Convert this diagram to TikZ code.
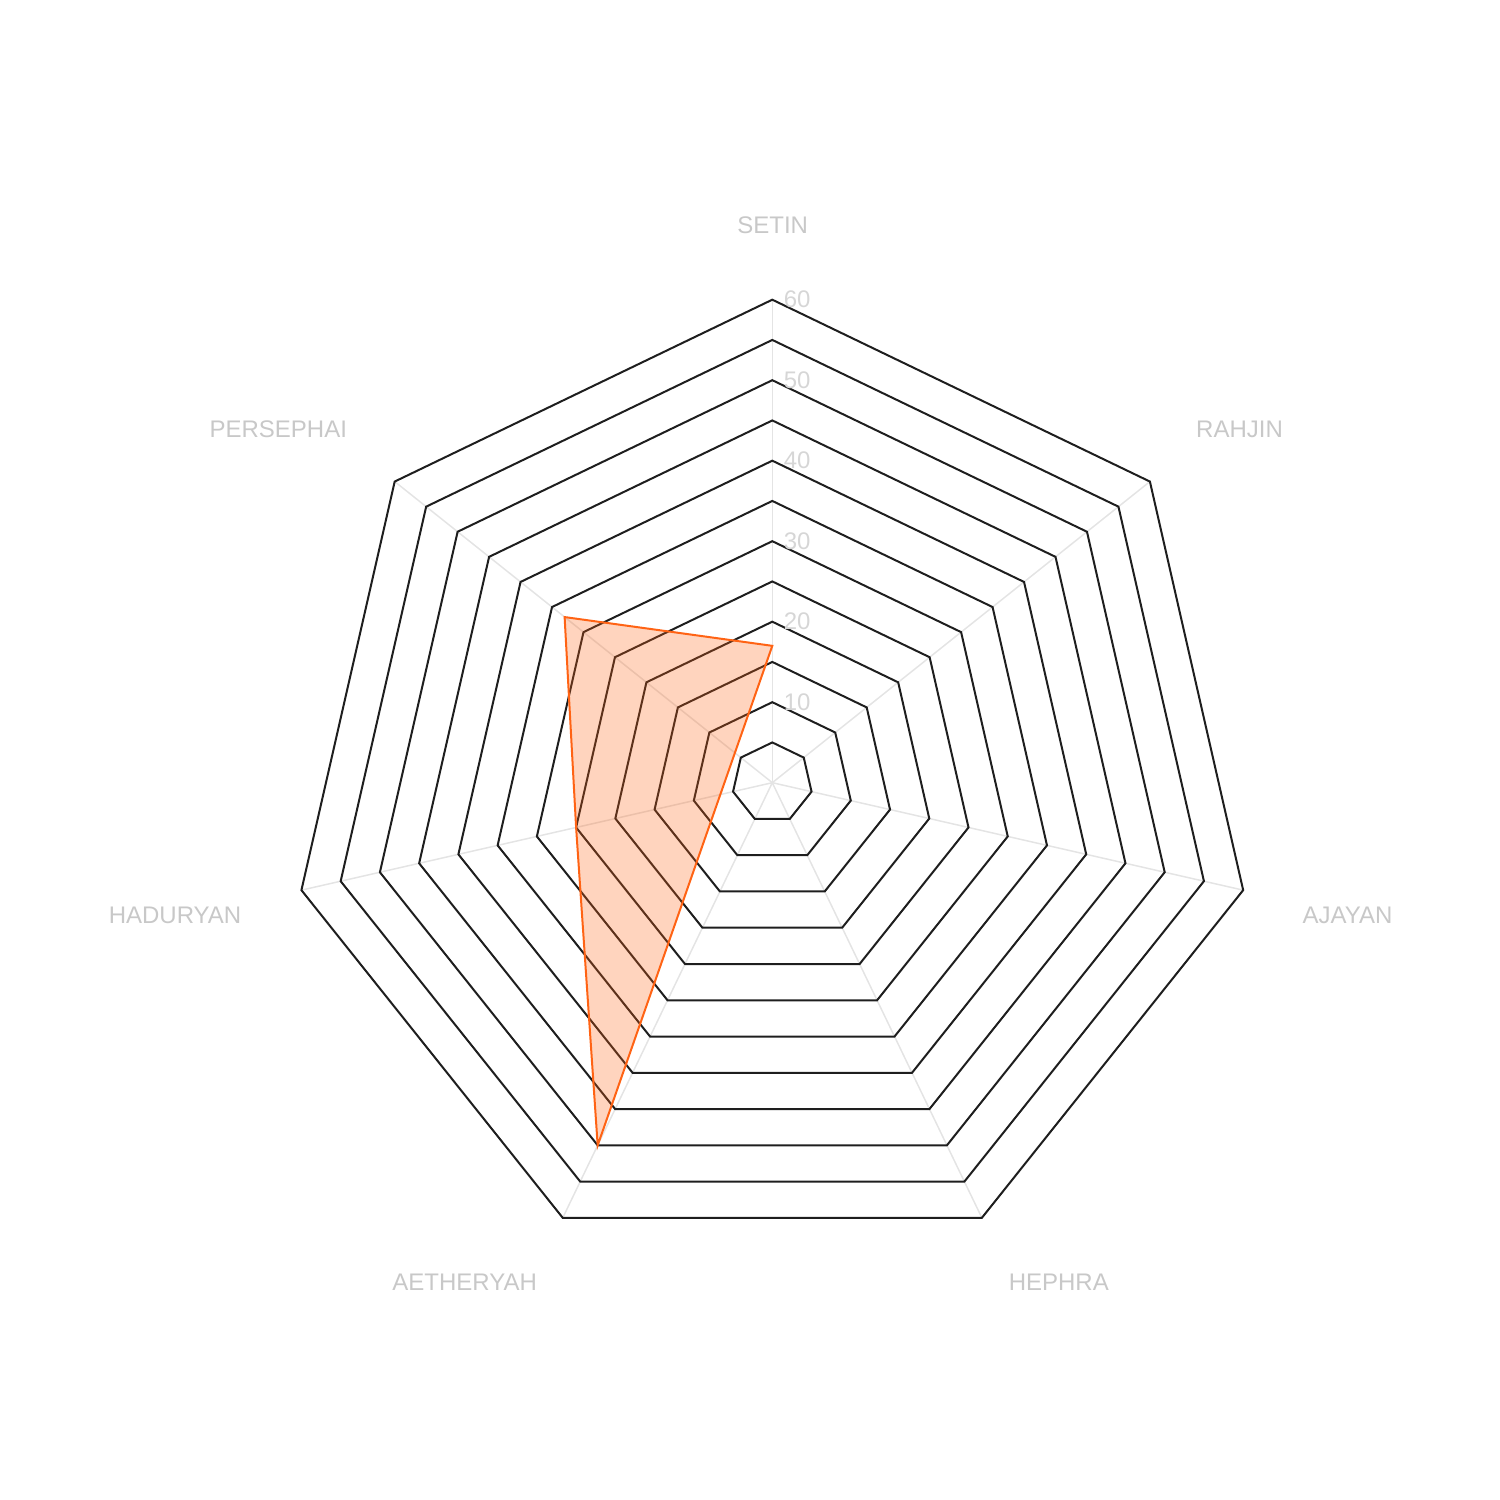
\documentclass[tikz,border=0pt]{standalone}
\usepackage{fontspec}
\newfontfamily\labfont{Liberation Sans}
\definecolor{gridc}{RGB}{30,30,30}
\definecolor{spokec}{RGB}{228,228,228}
\definecolor{labc}{RGB}{200,200,200}
\definecolor{tickc}{RGB}{214,214,214}
\definecolor{dataor}{RGB}{255,99,20}
\tikzset{
  ring/.style={draw=gridc, line width=2pt, line join=miter},
  spoke/.style={draw=spokec, line width=1.5pt},
  axislab/.style={inner sep=0pt, text=labc, font=\labfont\fontsize{24}{29}\selectfont},
  ticklab/.style={inner sep=0pt, text=tickc, font=\labfont\fontsize{24}{29}\selectfont},
  datafill/.style={fill=dataor, fill opacity=0.28},
  dataline/.style={draw=dataor, line width=2pt, line join=miter}
}
\begin{document}
\begin{tikzpicture}[x=1pt,y=1pt]
\useasboundingbox (0,0) rectangle (1500,1500);
\coordinate (O) at (772.3,717.3);
\begin{scope}[shift={(772.3,717.3)}]
  % spokes
  \foreach \k in {0,...,6}{
    \draw[spoke] (0,0) -- ({90-\k*360/7}:{60*8.05});
  }
  % rings
  \foreach \v in {5,10,...,60}{
    \draw[ring] (90:{\v*8.05}) \foreach \k in {1,...,6}{ -- ({90-\k*360/7}:{\v*8.05})} -- cycle;
  }
  % data
  \coordinate (dS) at (90:{17*8.05});
  \coordinate (dA) at ({90-4*360/7}:{50*8.05});
  \coordinate (dH) at ({90-5*360/7}:{25*8.05});
  \coordinate (dP) at ({90-6*360/7}:{33*8.05});
  \fill[datafill] (dS) -- (dA) -- (dH) -- (dP) -- cycle;
  \draw[dataline] (dS) -- (dA) -- (dH) -- (dP) -- cycle;
  % tick labels
  \foreach \v in {10,20,...,60}{
    \node[ticklab] (t\v) at (24.9,{\v*8.05}) {\v};
  }
\end{scope}
\node[axislab] (lS) at (772.7,1274.5) {SETIN};
\node[axislab] (lR) at (1239.5,1071) {RAHJIN};
\node[axislab] (lAj) at (1347.5,584.7) {AJAYAN};
\node[axislab] (lHe) at (1058.8,218) {HEPHRA};
\node[axislab] (lAe) at (464.7,218) {AETHERYAH};
\node[axislab] (lHa) at (175,584.3) {HADURYAN};
\node[axislab] (lP) at (278.3,1071) {PERSEPHAI};
\end{tikzpicture}
\end{document}
